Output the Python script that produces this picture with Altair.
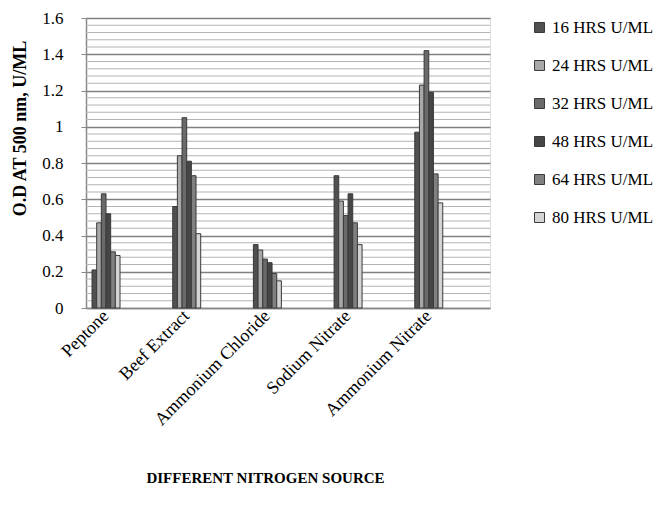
import altair as alt
import pandas as pd

sources = ["Peptone", "Beef Extract", "Ammonium Chloride", "Sodium Nitrate", "Ammonium Nitrate"]
series = ["16 HRS U/ML", "24 HRS U/ML", "32 HRS U/ML", "48 HRS U/ML", "64 HRS U/ML", "80 HRS U/ML"]
v16 = [0.21, 0.56, 0.35, 0.73, 0.97]
v24 = [0.47, 0.84, 0.32, 0.59, 1.23]
v32 = [0.63, 1.05, 0.27, 0.51, 1.42]
v48 = [0.52, 0.81, 0.25, 0.63, 1.19]
v64 = [0.31, 0.73, 0.19, 0.47, 0.74]
v80 = [0.29, 0.41, 0.15, 0.35, 0.58]
colors = ["#505050", "#a8a8a8", "#6a6a6a", "#464646", "#808080", "#d4d4d4"]
major_ticks = [0, 0.2, 0.4, 0.6, 0.8, 1, 1.2, 1.4, 1.6]
minor_ticks = [round(i * 0.04, 2) for i in range(41) if i % 5 != 0]

rows = []
for s, vals in zip(series, [v16, v24, v32, v48, v64, v80]):
    for src, v in zip(sources, vals):
        rows.append({"source": src, "hrs": s, "value": v})
df = pd.DataFrame(rows)
minor_df = pd.DataFrame({"y": minor_ticks})

FONT = "Liberation Serif"

yscale = alt.Scale(domain=[0, 1.6], nice=False)
yaxis = alt.Axis(
    title="O.D AT 500 nm, U/ML",
    values=major_ticks,
    format="~g",
    grid=True,
    gridColor="#808080",
    gridWidth=1.5,
    labelFont=FONT,
    labelFontSize=17,
    labelColor="#000000",
    labelPadding=18,
    labelOverlap=False,
    tickColor="#888888",
    tickSize=5,
    domainColor="#888888",
    domainWidth=1.5,
    titleFont=FONT,
    titleFontSize=18,
    titleFontWeight="bold",
    titleColor="#000000",
    titleAngle=270,
    titleAlign="center",
    titleBaseline="middle",
    titleX=-66,
    titleY=110,
)

minor = alt.Chart(minor_df).mark_rule(color="#b4b4b4", strokeWidth=1).encode(
    y=alt.Y("y:Q", scale=yscale, axis=yaxis)
)

bars = alt.Chart(df).mark_bar(stroke="#3a3a3a", strokeWidth=1).encode(
    x=alt.X(
        "source:N",
        sort=sources,
        scale=alt.Scale(paddingInner=0.653, paddingOuter=0.33, align=0.113),
        axis=alt.Axis(
            title="DIFFERENT NITROGEN SOURCE",
            labelAngle=-45,
            labelAlign="right",
            labelBaseline="middle",
            labelFont=FONT,
            labelFontSize=18,
            labelColor="#000000",
            labelPadding=5,
            labelOverlap=False,
            labelLimit=300,
            ticks=False,
            domainColor="#888888",
            domainWidth=1.5,
            titleFont=FONT,
            titleFontSize=15,
            titleFontWeight="bold",
            titleColor="#000000",
            titleAlign="center",
            titleBaseline="middle",
            titleX=179,
            titleY=169,
            grid=False,
        ),
    ),
    xOffset=alt.XOffset("hrs:N", sort=series, scale=alt.Scale(paddingInner=0, paddingOuter=0)),
    y=alt.Y("value:Q", scale=yscale, axis=yaxis),
    fill=alt.Fill(
        "hrs:N",
        sort=series,
        scale=alt.Scale(domain=series, range=colors),
        legend=alt.Legend(
            title=None,
            orient="none",
            legendX=445,
            legendY=1,
            symbolType="square",
            symbolSize=100,
            symbolStrokeColor="#3a3a3a",
            symbolStrokeWidth=1,
            labelFont=FONT,
            labelFontSize=17,
            labelColor="#000000",
            labelOffset=4,
            rowPadding=20,
            labelLimit=200,
        ),
    ),
)

chart = (
    alt.layer(minor, bars)
    .properties(
        width=404,
        height=290,
        autosize=alt.AutoSizeParams(type="none"),
        padding={"left": 78, "top": 10, "right": 167, "bottom": 190},
    )
    .configure_view(fill="#e5e5e5", stroke=None)
    .configure(background="#ffffff")
)

chart.save("out.html", embed_options={"renderer": "svg", "actions": False})
